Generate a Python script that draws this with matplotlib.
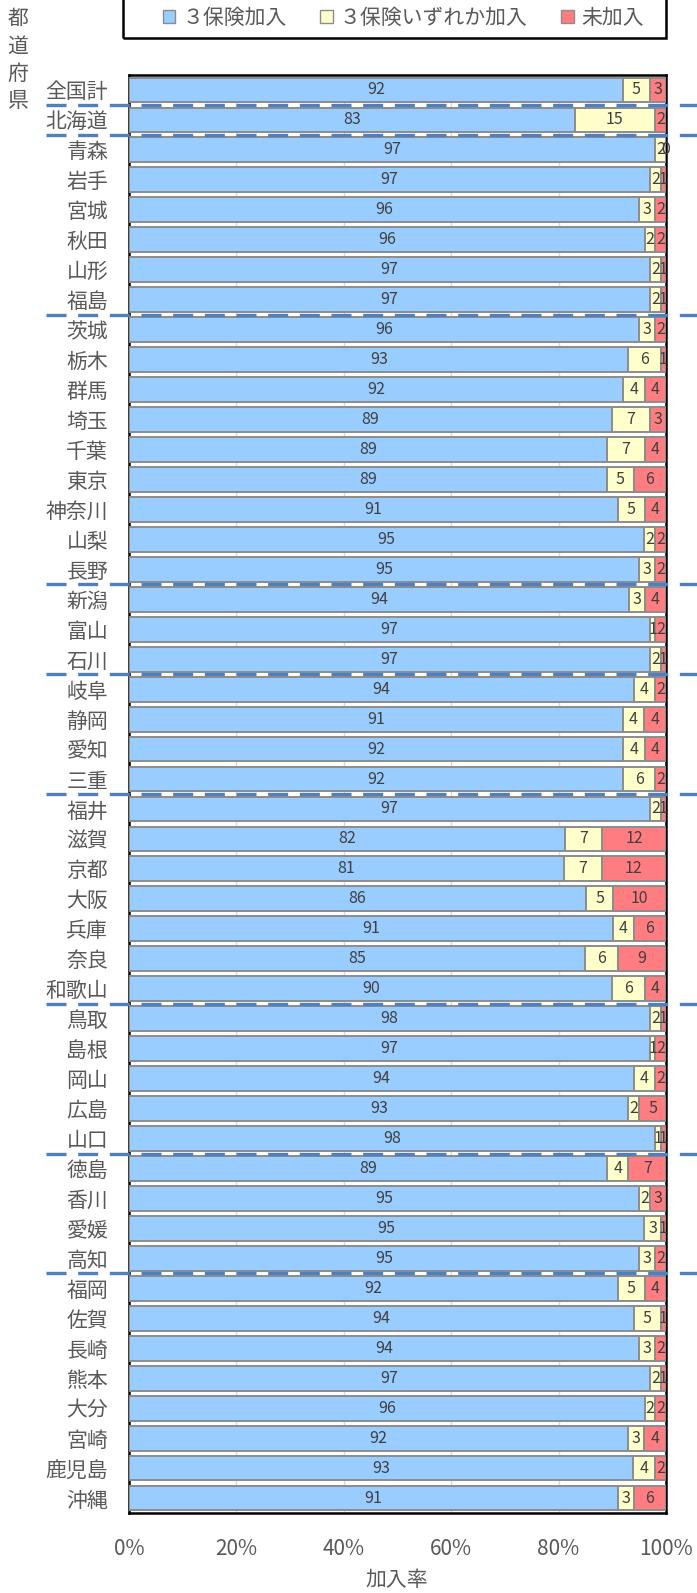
import numpy as np
import matplotlib
matplotlib.use("Agg")
import matplotlib.pyplot as plt
from matplotlib.patches import Rectangle, Patch
from matplotlib.transforms import blended_transform_factory

plt.rcParams['font.family'] = ['Noto Sans CJK JP', 'DejaVu Sans']

prefs = ["全国計", "北海道", "青森", "岩手", "宮城", "秋田", "山形", "福島",
         "茨城", "栃木", "群馬", "埼玉", "千葉", "東京", "神奈川", "山梨", "長野",
         "新潟", "富山", "石川", "岐阜", "静岡", "愛知", "三重",
         "福井", "滋賀", "京都", "大阪", "兵庫", "奈良", "和歌山",
         "鳥取", "島根", "岡山", "広島", "山口",
         "徳島", "香川", "愛媛", "高知",
         "福岡", "佐賀", "長崎", "熊本", "大分", "宮崎", "鹿児島", "沖縄"]
all3 = [92, 83, 97, 97, 96, 96, 97, 97,
        96, 93, 92, 89, 89, 89, 91, 95, 95,
        94, 97, 97, 94, 91, 92, 92,
        97, 82, 81, 86, 91, 85, 90,
        98, 97, 94, 93, 98,
        89, 95, 95, 95,
        92, 94, 94, 97, 96, 92, 93, 91]
some = [5, 15, 2, 2, 3, 2, 2, 2,
        3, 6, 4, 7, 7, 5, 5, 2, 3,
        3, 1, 2, 4, 4, 4, 6,
        2, 7, 7, 5, 4, 6, 6,
        2, 1, 4, 2, 1,
        4, 2, 3, 3,
        5, 5, 3, 2, 2, 3, 4, 3]
none = [3, 2, 0, 1, 2, 2, 1, 1,
        2, 1, 4, 3, 4, 6, 4, 2, 2,
        4, 2, 1, 2, 4, 4, 2,
        1, 12, 12, 10, 6, 9, 4,
        1, 2, 2, 5, 1,
        7, 3, 1, 2,
        4, 1, 2, 1, 2, 4, 2, 6]
# dashed separators drawn after these rows (region boundaries)
region_ends = ["全国計", "北海道", "福島", "長野", "石川", "三重", "和歌山", "山口", "高知"]

series_names = ["３保険加入", "３保険いずれか加入", "未加入"]
colors = ["#99CCFF", "#FFFFCC", "#FF7C80"]

W, H = 697, 1593
fig = plt.figure(figsize=(W / 100, H / 100), dpi=100)
ax = fig.add_axes([129 / W, 1 - 1513 / H, (666 - 129) / W, (1513 - 75) / H])

n = len(prefs)
y = np.arange(n)
vals = np.array([all3, some, none], dtype=float)
share = vals / vals.sum(axis=0) * 100
left = np.zeros(n)
for k in range(3):
    ax.barh(y, share[k], left=left, height=0.83, color=colors[k],
            edgecolor="#8C8C8C", linewidth=1.4, zorder=3)
    for i in range(n):
        ax.text(left[i] + share[k][i] / 2, y[i], str(int(vals[k][i])),
                ha="center", va="center", fontsize=11.5, color="#404040", zorder=4)
    left += share[k]

ax.set_xlim(0, 100)
ax.set_ylim(n - 0.5, -0.5)
ax.set_yticks(y)
ax.set_yticklabels(prefs, fontsize=15, color="#595959")
ax.set_xticks(np.arange(0, 101, 20))
ax.set_xticklabels([f"{v}%" for v in range(0, 101, 20)], fontsize=15, color="#595959")
ax.tick_params(axis="both", length=0)
ax.tick_params(axis="y", pad=15)
ax.tick_params(axis="x", pad=18)
ax.grid(axis="x", color="#D9D9D9", linewidth=1, zorder=0)
for s in ax.spines.values():
    s.set_color("black")
    s.set_linewidth(1.8)
fig.text(397 / W, 1 - 1580 / H, "加入率", ha="center", va="center",
         fontsize=15, color="#595959")

# region separators
tr = blended_transform_factory(fig.transFigure, ax.transData)
for name in region_ends:
    yy = prefs.index(name) + 0.5
    ax.plot([46 / W, 1.0], [yy, yy], transform=tr, clip_on=False,
            color="#4F7FBF", linewidth=2.4, linestyle=(0, (6, 3.5)), zorder=5)

# y axis title
fig.text(18 / W, 1 - 60 / H, "都\n道\n府\n県", ha="center", va="center",
         fontsize=15, color="#595959", linespacing=1.3)

# legend box (top runs off the figure)
fig.patches.append(Rectangle((123 / W, 1 - 38 / H), (666 - 123) / W, 60 / H,
                             transform=fig.transFigure, fill=False,
                             edgecolor="black", linewidth=1.8))
handles = [Patch(facecolor=c, edgecolor="#8C8C8C", label=l) for c, l in zip(colors, series_names)]
fig.legend(handles=handles, loc="center", bbox_to_anchor=(403 / W, 1 - 18 / H),
           ncol=3, frameon=False, fontsize=15, labelcolor="#595959",
           handlelength=0.6, handleheight=0.6, handletextpad=0.35, columnspacing=1.6,
           borderpad=0)

fig.savefig("out.png", dpi=100)
